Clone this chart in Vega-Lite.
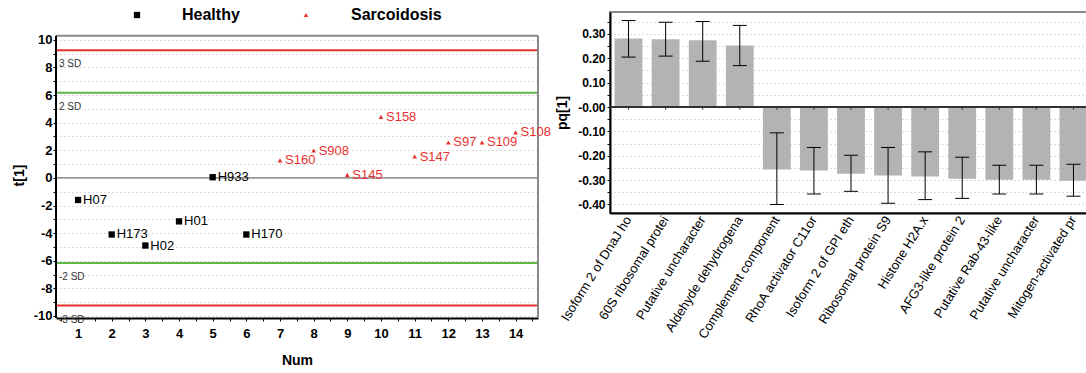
{
  "$schema": "https://vega.github.io/schema/vega-lite/v6.json",
  "padding": {"left": 12, "top": 7, "right": 0, "bottom": 0},
  "spacing": 3,
  "config": {
    "font": "Liberation Sans",
    "view": {"stroke": "#8a8a8a", "strokeWidth": 2},
    "axis": {"labelOverlap": false}
  },
  "datasets": {
    "scores": [
      {"Sample": "H07", "Num": 1, "t": -1.6, "Group": "Healthy"},
      {"Sample": "H173", "Num": 2, "t": -4.1, "Group": "Healthy"},
      {"Sample": "H02", "Num": 3, "t": -4.9, "Group": "Healthy"},
      {"Sample": "H01", "Num": 4, "t": -3.15, "Group": "Healthy"},
      {"Sample": "H933", "Num": 5, "t": 0.05, "Group": "Healthy"},
      {"Sample": "H170", "Num": 6, "t": -4.1, "Group": "Healthy"},
      {"Sample": "S160", "Num": 7, "t": 1.27, "Group": "Sarcoidosis"},
      {"Sample": "S908", "Num": 8, "t": 1.98, "Group": "Sarcoidosis"},
      {"Sample": "S145", "Num": 9, "t": 0.22, "Group": "Sarcoidosis"},
      {"Sample": "S158", "Num": 10, "t": 4.42, "Group": "Sarcoidosis"},
      {"Sample": "S147", "Num": 11, "t": 1.55, "Group": "Sarcoidosis"},
      {"Sample": "S97", "Num": 12, "t": 2.57, "Group": "Sarcoidosis"},
      {"Sample": "S109", "Num": 13, "t": 2.57, "Group": "Sarcoidosis"},
      {"Sample": "S108", "Num": 14, "t": 3.3, "Group": "Sarcoidosis"}
    ],
    "sd": [
      {"value": 9.25, "level": "3 SD", "label": "3 SD"},
      {"value": 6.17, "level": "2 SD", "label": "2 SD"},
      {"value": -6.17, "level": "2 SD", "label": "-2 SD"},
      {"value": -9.25, "level": "3 SD", "label": "-3 SD"}
    ],
    "loadings": [
      {"Protein": "Isoform 2 of DnaJ ho", "pq": 0.281, "lo": 0.205, "hi": 0.355},
      {"Protein": "60S ribosomal protei", "pq": 0.278, "lo": 0.209, "hi": 0.348},
      {"Protein": "Putative uncharacter", "pq": 0.274, "lo": 0.188, "hi": 0.351},
      {"Protein": "Aldehyde dehydrogena", "pq": 0.253, "lo": 0.17, "hi": 0.335},
      {"Protein": "Complement component", "pq": -0.256, "lo": -0.4, "hi": -0.106},
      {"Protein": "RhoA activator C11or", "pq": -0.261, "lo": -0.357, "hi": -0.166},
      {"Protein": "Isoform 2 of GPI eth", "pq": -0.274, "lo": -0.346, "hi": -0.198},
      {"Protein": "Ribosomal protein S9", "pq": -0.281, "lo": -0.395, "hi": -0.166},
      {"Protein": "Histone H2A.x", "pq": -0.285, "lo": -0.38, "hi": -0.184},
      {"Protein": "AFG3-like protein 2", "pq": -0.294, "lo": -0.375, "hi": -0.206},
      {"Protein": "Putative Rab-43-like", "pq": -0.299, "lo": -0.357, "hi": -0.239},
      {"Protein": "Putative uncharacter ", "pq": -0.299, "lo": -0.357, "hi": -0.239},
      {"Protein": "Mitogen-activated pr", "pq": -0.303, "lo": -0.366, "hi": -0.235}
    ]
  },
  "hconcat": [
    {
      "width": 482,
      "height": 306,
      "view": {"stroke": null},
      "layer": [
        {
          "data": {"name": "sd"},
          "mark": {"type": "rule", "strokeWidth": 2},
          "encoding": {
            "y": {
              "field": "value", "type": "quantitative", "title": "t[1]",
              "scale": {"domain": [-10.15, 12.02], "nice": false, "zero": false},
              "axis": {
                "values": [-10, -9, -8, -7, -6, -5, -4, -3, -2, -1, 0, 1, 2, 3, 4, 5, 6, 7, 8, 9, 10],
                "tickCount": 100,
                "labelExpr": "datum.value % 2 == 0 ? '' + datum.value : ''",
                "labelOverlap": false,
                "grid": true, "gridDash": [1, 3], "gridColor": "#b5b5b5", "gridWidth": 1,
                "domain": false,
                "tickColor": "#000", "tickSize": 3,
                "labelFontSize": 13, "labelFontWeight": "bold", "labelColor": "#000", "labelPadding": 1,
                "titleFontSize": 14, "titleFontWeight": "bold", "titleColor": "#000", "titlePadding": 7,
                "titleY": 163
              }
            },
            "stroke": {
              "field": "level", "type": "nominal",
              "scale": {"domain": ["3 SD", "2 SD"], "range": ["#e8312f", "#5cb747"]},
              "legend": null
            }
          }
        },
        {
          "data": {"name": "sd"},
          "mark": {"type": "text", "align": "left", "baseline": "middle", "dx": 3, "dy": 14, "fontSize": 10, "color": "#333"},
          "encoding": {
            "x": {"datum": 0.345, "type": "quantitative", "scale": {"domain": [0.345, 14.665], "nice": false, "zero": false}},
            "y": {"field": "value", "type": "quantitative", "title": "t[1]", "scale": {"domain": [-10.15, 12.02], "nice": false, "zero": false}},
            "text": {"field": "label"}
          }
        },
        {
          "data": {"values": [{}]},
          "mark": {"type": "rule", "color": "#555", "strokeWidth": 1},
          "encoding": {
            "y": {"datum": 0, "type": "quantitative", "scale": {"domain": [-10.15, 12.02], "nice": false, "zero": false}}
          }
        },
        {
          "data": {"values": [{}]},
          "mark": {"type": "rule", "color": "#8a8a8a", "strokeWidth": 2},
          "encoding": {
            "y": {"datum": 10.3, "type": "quantitative", "scale": {"domain": [-10.15, 12.02], "nice": false, "zero": false}}
          }
        },
        {
          "data": {"values": [{}]},
          "mark": {"type": "rule", "color": "#8a8a8a", "strokeWidth": 2},
          "encoding": {
            "x": {"datum": 14.665, "type": "quantitative", "scale": {"domain": [0.345, 14.665], "nice": false, "zero": false}},
            "y": {"datum": -10.15, "type": "quantitative", "scale": {"domain": [-10.15, 12.02], "nice": false, "zero": false}},
            "y2": {"datum": 10.3}
          }
        },
        {
          "data": {"values": [{}]},
          "mark": {"type": "rule", "color": "#000", "strokeWidth": 2},
          "encoding": {
            "x": {"datum": 0.345, "type": "quantitative", "scale": {"domain": [0.345, 14.665], "nice": false, "zero": false}},
            "y": {"datum": -10.15, "type": "quantitative", "scale": {"domain": [-10.15, 12.02], "nice": false, "zero": false}},
            "y2": {"datum": 10.3}
          }
        },
        {
          "data": {"name": "scores"},
          "mark": {"type": "point", "filled": true, "opacity": 1},
          "encoding": {
            "x": {
              "field": "Num", "type": "quantitative", "title": "Num",
              "scale": {"domain": [0.345, 14.665], "nice": false, "zero": false},
              "axis": {
                "values": [0.5, 1, 1.5, 2, 2.5, 3, 3.5, 4, 4.5, 5, 5.5, 6, 6.5, 7, 7.5, 8, 8.5, 9, 9.5, 10, 10.5, 11, 11.5, 12, 12.5, 13, 13.5, 14, 14.5],
                "tickCount": 100,
                "labelExpr": "datum.value % 1 == 0 ? '' + datum.value : ''",
                "labelOverlap": false, "labelFlush": false,
                "grid": false,
                "domainColor": "#000", "domainWidth": 2,
                "tickColor": "#000", "tickSize": 3,
                "labelFontSize": 13, "labelFontWeight": "bold", "labelColor": "#000", "labelPadding": 6,
                "titleFontSize": 14, "titleFontWeight": "bold", "titleColor": "#000", "titlePadding": 13
              }
            },
            "y": {"field": "t", "type": "quantitative", "title": "t[1]", "scale": {"domain": [-10.15, 12.02], "nice": false, "zero": false}},
            "shape": {
              "field": "Group", "type": "nominal",
              "scale": {"domain": ["Healthy", "Sarcoidosis"], "range": ["square", "triangle-up"]},
              "legend": {"orient": "none", "legendX": 73, "legendY": -5, "direction": "horizontal", "title": null, "labelFontSize": 16, "labelFontWeight": "bold", "labelColor": "#000", "labelOffset": 37, "columnPadding": 58, "padding": 0}
            },
            "color": {
              "field": "Group", "type": "nominal",
              "scale": {"domain": ["Healthy", "Sarcoidosis"], "range": ["#000000", "#e8312f"]},
              "legend": {"orient": "none", "legendX": 73, "legendY": -5, "direction": "horizontal", "title": null, "labelFontSize": 16, "labelFontWeight": "bold", "labelColor": "#000", "labelOffset": 37, "columnPadding": 58, "padding": 0}
            },
            "size": {
              "field": "Group", "type": "nominal",
              "scale": {"domain": ["Healthy", "Sarcoidosis"], "range": [40, 22]},
              "legend": {"orient": "none", "legendX": 73, "legendY": -5, "direction": "horizontal", "title": null, "labelFontSize": 16, "labelFontWeight": "bold", "labelColor": "#000", "labelOffset": 37, "columnPadding": 58, "padding": 0}
            }
          }
        },
        {
          "data": {"name": "scores"},
          "mark": {"type": "text", "align": "left", "baseline": "middle", "dx": 5, "fontSize": 13},
          "encoding": {
            "x": {"field": "Num", "type": "quantitative", "title": "Num", "scale": {"domain": [0.345, 14.665], "nice": false, "zero": false}},
            "y": {"field": "t", "type": "quantitative", "title": "t[1]", "scale": {"domain": [-10.15, 12.02], "nice": false, "zero": false}},
            "text": {"field": "Sample"},
            "fill": {
              "field": "Group", "type": "nominal",
              "scale": {"domain": ["Healthy", "Sarcoidosis"], "range": ["#000000", "#e8312f"]},
              "legend": null
            }
          }
        }
      ]
    },
    {
      "width": 482,
      "height": 201,
      "data": {"name": "loadings"},
      "layer": [
        {
          "mark": {"type": "bar", "color": "#b3b3b3"},
          "encoding": {
            "x": {
              "field": "Protein", "type": "nominal", "sort": null, "title": null,
              "scale": {"paddingInner": 0.25, "paddingOuter": 0.125},
              "axis": {
                "ticks": false, "labelAngle": -58, "labelAlign": "right", "labelBaseline": "middle",
                "labelFontSize": 13, "labelColor": "#000", "labelPadding": 4, "labelLimit": 300,
                "domainColor": "#000", "domainWidth": 2
              }
            },
            "y": {
              "field": "pq", "type": "quantitative", "title": "pq[1]",
              "scale": {"domain": [-0.435, 0.39], "nice": false, "zero": false},
              "axis": {
                "values": [-0.4, -0.35, -0.3, -0.25, -0.2, -0.15, -0.1, -0.05, 0, 0.05, 0.1, 0.15, 0.2, 0.25, 0.3, 0.35],
                "tickCount": 100,
                "labelExpr": "abs(round(datum.value * 100)) % 10 == 0 ? (abs(datum.value) < 1e-9 ? '-0.00' : replace(format(datum.value, '.2f'), '\u2212', '-')) : ''",
                "labelOverlap": false,
                "grid": true, "gridDash": [1, 3], "gridColor": "#b5b5b5", "gridWidth": 1,
                "domainColor": "#000", "domainWidth": 2,
                "tickColor": "#000", "tickSize": 3,
                "labelFontSize": 12, "labelFontWeight": "bold", "labelColor": "#000", "labelPadding": 2,
                "titleFontSize": 14, "titleFontWeight": "bold", "titleColor": "#000", "titlePadding": 8
              }
            }
          }
        },
        {
          "mark": {"type": "rule", "color": "#333", "strokeWidth": 1.5},
          "encoding": {
            "y": {"datum": 0, "type": "quantitative", "scale": {"domain": [-0.435, 0.39], "nice": false, "zero": false}}
          }
        },
        {
          "mark": {"type": "rule", "color": "#333", "strokeWidth": 1},
          "encoding": {
            "x": {"field": "Protein", "type": "nominal", "sort": null},
            "y": {"datum": 0, "type": "quantitative", "scale": {"domain": [-0.435, 0.39], "nice": false, "zero": false}},
            "y2": {"datum": -0.011}
          }
        },
        {
          "mark": {"type": "rule", "color": "#000", "strokeWidth": 1},
          "encoding": {
            "x": {"field": "Protein", "type": "nominal", "sort": null},
            "y": {"field": "lo", "type": "quantitative", "title": "pq[1]", "scale": {"domain": [-0.435, 0.39], "nice": false, "zero": false}},
            "y2": {"field": "hi"}
          }
        },
        {
          "transform": [{"fold": ["lo", "hi"], "as": ["bound", "val"]}],
          "mark": {"type": "tick", "color": "#000", "thickness": 1, "size": 14, "opacity": 1},
          "encoding": {
            "x": {"field": "Protein", "type": "nominal", "sort": null},
            "y": {"field": "val", "type": "quantitative", "title": "pq[1]", "scale": {"domain": [-0.435, 0.39], "nice": false, "zero": false}}
          }
        }
      ]
    }
  ]
}
